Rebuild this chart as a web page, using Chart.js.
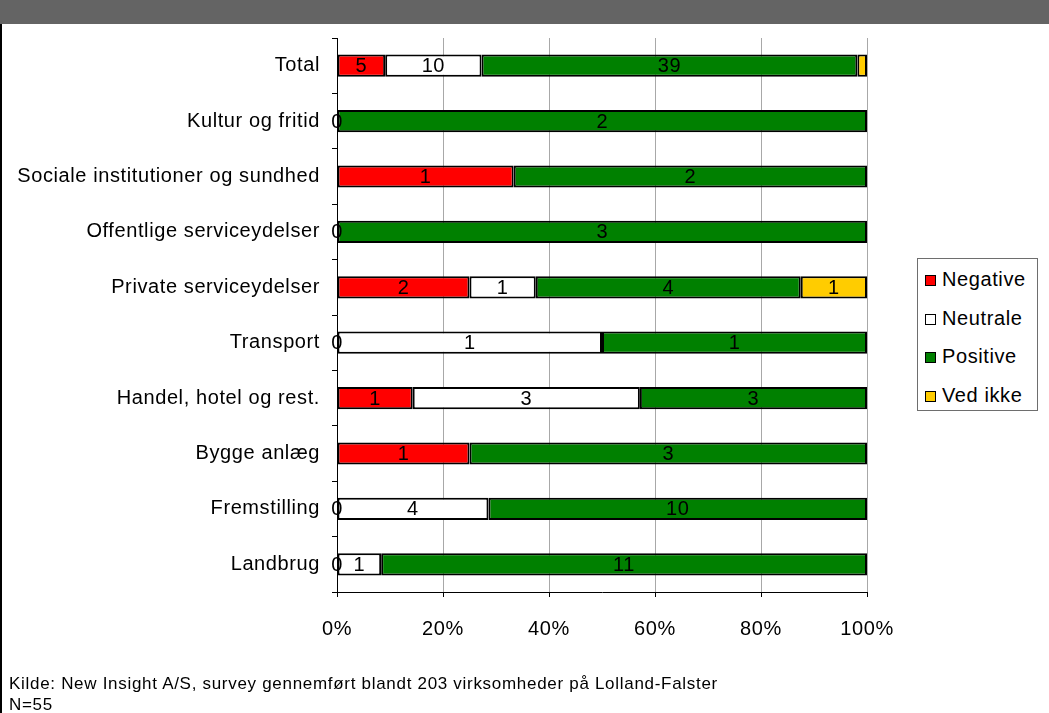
<!DOCTYPE html>
<html>
<head>
<meta charset="utf-8">
<script src="https://cdn.jsdelivr.net/npm/chart.js@4/dist/chart.umd.min.js"></script>
<style>
  html, body { margin: 0; padding: 0; background: #fff; }
  body { width: 1049px; height: 713px; position: relative; overflow: hidden; font-family: "Liberation Sans", Arial, sans-serif; }
  #header { position: absolute; left: 0; top: 0; width: 1049px; height: 24px; background: #646464; }
  #leftrule { position: absolute; left: 0; top: 24px; width: 2px; height: 689px; background: #000; }
  #wrap { position: absolute; left: 0; top: 0; width: 1049px; height: 713px; }
  #legend { position: absolute; left: 917px; top: 258px; width: 121px; height: 153px; border: 1px solid #6e6e6e; box-sizing: border-box; background: #fff; }
  .item { position: absolute; left: 7px; height: 24px; line-height: 24px; font-size: 20px; letter-spacing: 0.6px; color: #000; white-space: nowrap; }
  .swatch { display: inline-block; width: 11px; height: 11px; border: 1.5px solid #000; box-sizing: border-box; margin-right: 6px; vertical-align: 0px; }
  #source { position: absolute; left: 9px; top: 673px; font-size: 17px; letter-spacing: 0.7px; line-height: 21px; color: #000; }
</style>
</head>
<body>
<div id="header"></div>
<div id="leftrule"></div>
<div id="wrap"><canvas id="c" width="1049" height="713"></canvas></div>
<div id="legend"></div>
<div id="source">Kilde: New Insight A/S, survey gennemført blandt 203 virksomheder på Lolland-Falster<br>N=55</div>
<script>
// Answer counts per sector
const categories = ["Total", "Kultur og fritid", "Sociale institutioner og sundhed", "Offentlige serviceydelser",
  "Private serviceydelser", "Transport", "Handel, hotel og rest.", "Bygge anlæg", "Fremstilling", "Landbrug"];
const negative = [5, 0, 1, 0, 2, 0, 1, 1, 0, 0];
const neutrale = [10, 0, 0, 0, 1, 1, 3, 0, 4, 1];
const positive = [39, 2, 2, 3, 4, 1, 3, 3, 10, 11];
const vedIkke  = [1, 0, 0, 0, 1, 0, 0, 0, 0, 0];
const seriesNames = ["Negative", "Neutrale", "Positive", "Ved ikke"];
const seriesColors = ["#ff0000", "#ffffff", "#008000", "#ffcc00"];
const xTicks = [0, 20, 40, 60, 80, 100];

const counts = [negative, neutrale, positive, vedIkke];
const totals = categories.map((_, i) => counts.reduce((s, arr) => s + arr[i], 0));
const shares = counts.map(arr => arr.map((v, i) => v / totals[i] * 100));

const FONT = "'Liberation Sans', Arial, sans-serif";

// Slightly wider letter spacing for all canvas text
const spacing = {
  id: 'spacing',
  beforeUpdate(chart) { chart.ctx.letterSpacing = '0.6px'; },
  beforeDraw(chart) { chart.ctx.letterSpacing = '0.6px'; }
};

// Count labels in the middle of each segment
const countLabels = {
  id: 'countLabels',
  afterDatasetsDraw(chart) {
    const ctx = chart.ctx;
    ctx.save();
    ctx.font = "20px " + FONT;
    ctx.fillStyle = "#000";
    ctx.textAlign = "center";
    ctx.textBaseline = "middle";
    chart.data.datasets.forEach((ds, di) => {
      const meta = chart.getDatasetMeta(di);
      meta.data.forEach((bar, i) => {
        const n = counts[di][i];
        const w = Math.abs(bar.x - bar.base);
        if ((n > 0 && w >= 14) || (n === 0 && di === 0)) {
          ctx.fillText(String(n), (bar.x + bar.base) / 2, bar.y + 1);
        }
      });
    });
    ctx.restore();
  }
};

new Chart(document.getElementById('c'), {
  type: 'bar',
  data: {
    labels: categories,
    datasets: shares.map((d, k) => ({
      label: seriesNames[k],
      data: d,
      backgroundColor: seriesColors[k],
      borderColor: "#000",
      borderWidth: 2,
      borderSkipped: false,
      barPercentage: 0.8,
      categoryPercentage: 0.5
    }))
  },
  options: {
    indexAxis: 'y',
    responsive: false,
    animation: false,
    layout: { padding: { top: 38, right: 182, bottom: 71, left: 0 } },
    plugins: { legend: { display: false }, tooltip: { enabled: false } },
    scales: {
      x: {
        stacked: true,
        min: 0, max: 100,
        afterBuildTicks(scale) { scale.ticks = xTicks.map(v => ({ value: v })); },
        afterFit(scale) { scale.height = 50; },
        ticks: { color: "#000", font: { size: 20, family: FONT }, padding: 20, callback: v => v + "%" },
        grid: { color: "#a8a8a8", lineWidth: 1, tickColor: "#000", tickLength: 5 },
        border: { color: "#000", width: 1 }
      },
      y: {
        stacked: true,
        afterFit(scale) { scale.width = 337; },
        ticks: { color: "#000", font: { size: 20, family: FONT }, padding: 12 },
        grid: { drawOnChartArea: false, tickColor: "#000", tickLength: 5 },
        border: { color: "#000", width: 1 }
      }
    }
  },
  plugins: [spacing, countLabels]
});

// Legend box
const legend = document.getElementById('legend');
seriesNames.forEach((name, k) => {
  const it = document.createElement('div');
  it.className = 'item';
  it.style.top = (8 + k * 38.5) + 'px';
  const sw = document.createElement('span');
  sw.className = 'swatch';
  sw.style.background = seriesColors[k];
  it.appendChild(sw);
  it.appendChild(document.createTextNode(name));
  legend.appendChild(it);
});
</script>
</body>
</html>
